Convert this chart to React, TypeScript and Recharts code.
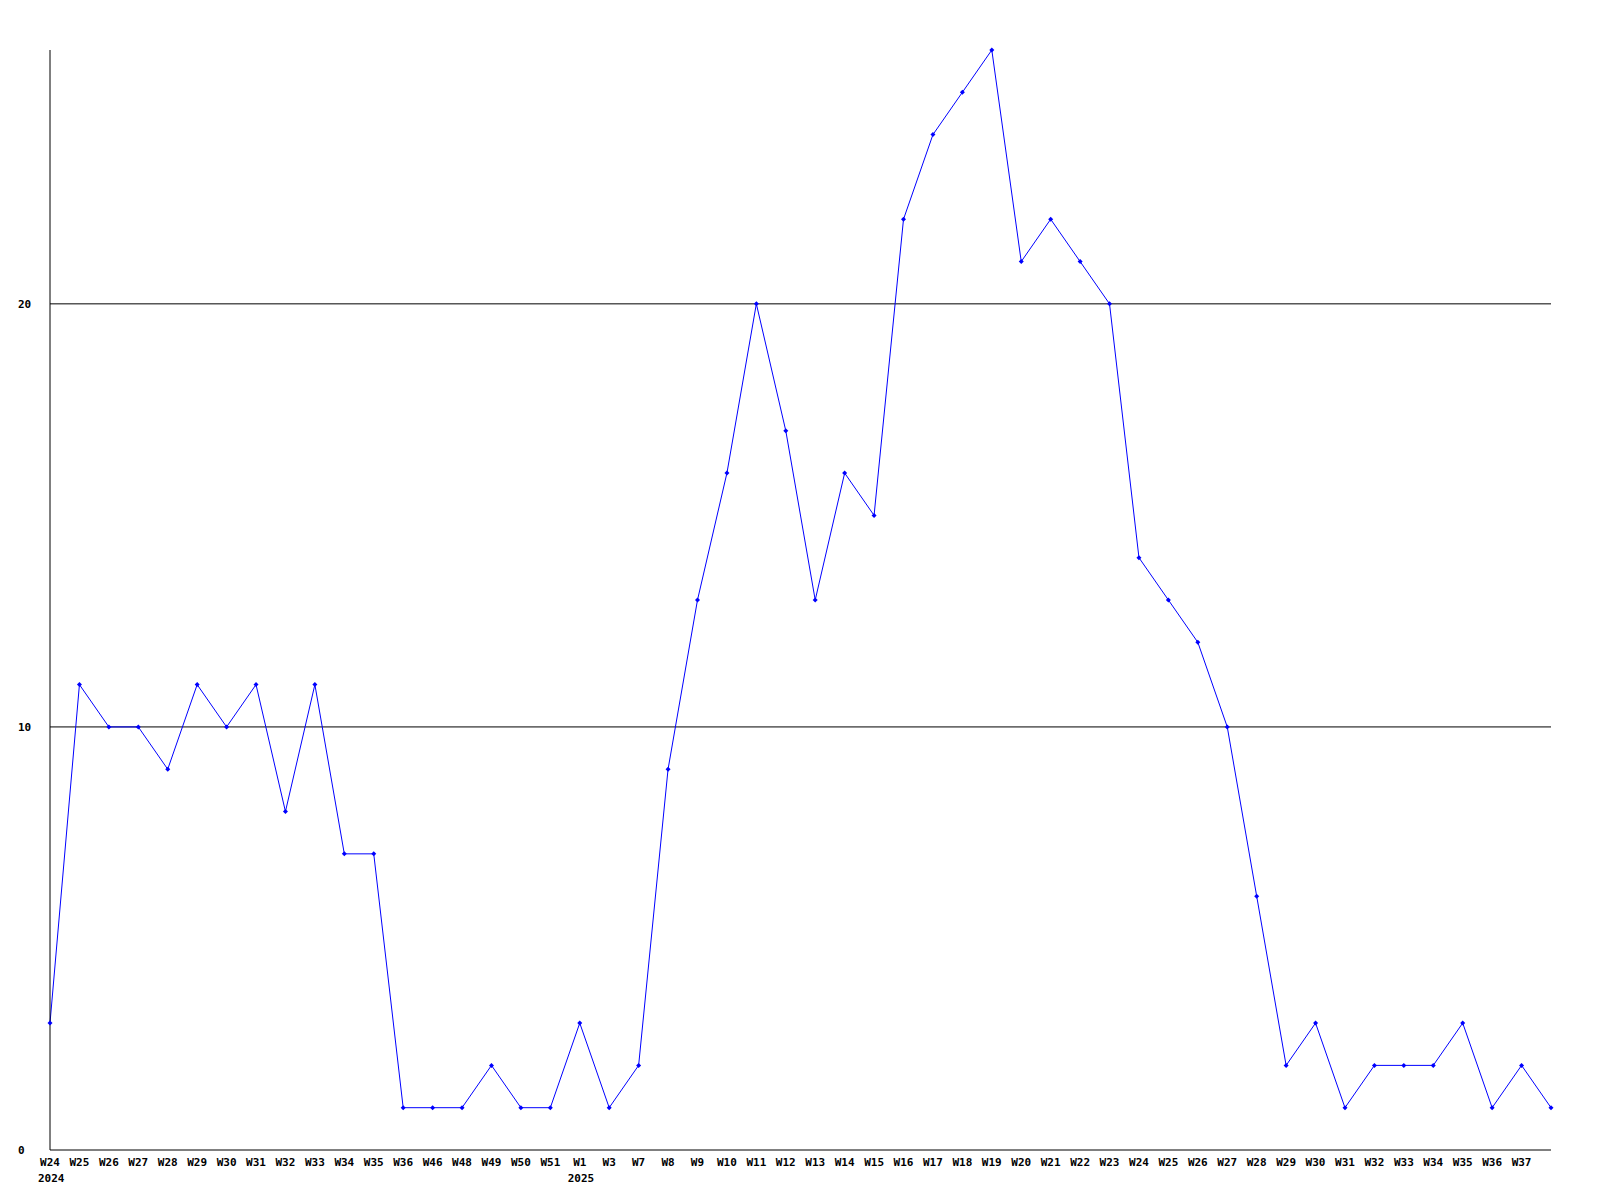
import { LineChart, Line, XAxis, YAxis, ReferenceLine } from 'recharts'

const weeks = [
  'W24', 'W25', 'W26', 'W27', 'W28', 'W29', 'W30', 'W31', 'W32', 'W33', 'W34', 'W35', 'W36',
  'W46', 'W48', 'W49', 'W50', 'W51',
  'W1', 'W3', 'W7', 'W8', 'W9', 'W10', 'W11', 'W12', 'W13', 'W14', 'W15', 'W16', 'W17', 'W18',
  'W19', 'W20', 'W21', 'W22', 'W23', 'W24', 'W25', 'W26', 'W27', 'W28', 'W29', 'W30', 'W31',
  'W32', 'W33', 'W34', 'W35', 'W36', 'W37', 'W38',
]

const counts = [
  3, 11, 10, 10, 9, 11, 10, 11, 8, 11, 7, 7, 1,
  1, 1, 2, 1, 1,
  3, 1, 2, 9, 13, 16, 20, 17, 13, 16, 15, 22, 24, 25,
  26, 21, 22, 21, 20, 14, 13, 12, 10, 6, 2, 3, 1,
  2, 2, 2, 3, 1, 2, 1,
]

const firstYear = 2024
const yTicks = [0, 10, 20]
const gridValues = [10, 20]

const FONT = '"DejaVu Sans Mono", "Liberation Mono", monospace'

// year label only under the first week of each year
const data = (() => {
  let year = firstYear
  let prev = 0
  return weeks.map((week, i) => {
    const n = parseInt(week.slice(1), 10)
    let yearLabel = ''
    if (i === 0) yearLabel = String(year)
    else if (n < prev) {
      year += 1
      yearLabel = String(year)
    }
    prev = n
    return { week, yearLabel, count: counts[i] }
  })
})()

function WeekTick(props: any) {
  const { x, y, payload, index } = props
  // last point has no room for its label
  if (index === data.length - 1) return null
  const row = data[index] ?? data.find((d) => d.week === payload.value)
  return (
    <g>
      <text x={x} y={y + 16} textAnchor="middle" fontFamily={FONT} fontWeight="bold" fontSize={11} fill="#000">
        {payload.value}
      </text>
      {row && row.yearLabel ? (
        <text x={x - 12} y={y + 32} textAnchor="start" fontFamily={FONT} fontWeight="bold" fontSize={11} fill="#000">
          {row.yearLabel}
        </text>
      ) : null}
    </g>
  )
}

function CountTick(props: any) {
  const { y, payload } = props
  return (
    <text x={18} y={y + 4} textAnchor="start" fontFamily={FONT} fontWeight="bold" fontSize={11} fill="#000">
      {payload.value}
    </text>
  )
}

function Diamond(props: any) {
  const { cx, cy } = props
  if (cx == null || cy == null) return null
  return (
    <polygon
      points={`${cx},${cy - 2.5} ${cx + 2.5},${cy} ${cx},${cy + 2.5} ${cx - 2.5},${cy}`}
      fill="#0000ff"
    />
  )
}

export default function App() {
  return (
    <div style={{ width: 1600, height: 1200, background: '#fff' }}>
      <style>{'body{margin:0}'}</style>
      <LineChart width={1600} height={1200} data={data} margin={{ top: 50, right: 49, left: 0, bottom: 0 }}>
        {gridValues.map((v) => (
          <ReferenceLine key={v} y={v} stroke="#000" />
        ))}
        <XAxis
          dataKey="week"
          interval={0}
          height={50}
          tickLine={false}
          tickSize={0}
          tickMargin={0}
          axisLine={{ stroke: '#000' }}
          tick={<WeekTick />}
        />
        <YAxis
          width={50}
          domain={[0, 26]}
          ticks={yTicks}
          tickLine={false}
          tickSize={0}
          tickMargin={0}
          axisLine={{ stroke: '#000' }}
          tick={<CountTick />}
        />
        <Line
          type="linear"
          dataKey="count"
          stroke="#0000ff"
          strokeWidth={1}
          dot={<Diamond />}
          activeDot={false}
          isAnimationActive={false}
        />
      </LineChart>
    </div>
  )
}
